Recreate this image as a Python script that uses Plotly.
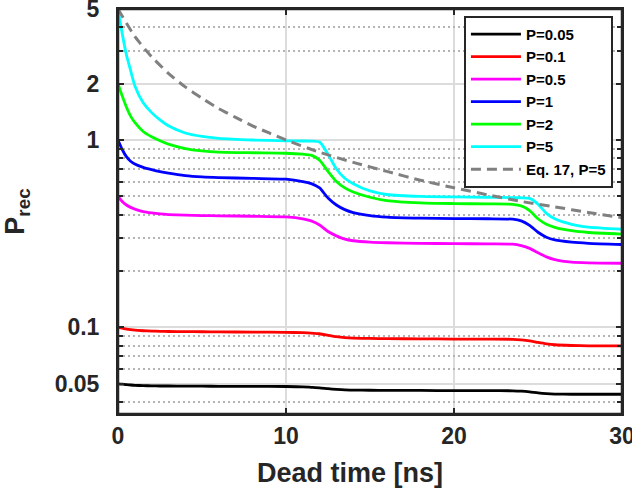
import plotly.graph_objects as go

# Dead time [ns] sample positions shared by the simulated curves
dead_time = [0, 0.25, 0.5, 0.75, 1, 1.5, 2, 2.5, 3, 4, 5, 6, 8, 10, 11, 11.5, 12, 12.5,
             13, 13.5, 14, 15, 16, 18, 20, 22, 23.5, 24, 24.5, 25, 25.5, 26, 27, 28, 30]

p_005 = [0.05, 0.0498, 0.0495, 0.0493, 0.0491, 0.0489, 0.0488, 0.0487, 0.0487, 0.0486, 0.0486,
         0.0485, 0.0485, 0.0484, 0.0482, 0.0479, 0.0476, 0.0471, 0.0467, 0.0464, 0.0463, 0.0462,
         0.0461, 0.0461, 0.046, 0.046, 0.0459, 0.0457, 0.0453, 0.0447, 0.0443, 0.0441, 0.044,
         0.044, 0.044]
p_01 = [0.1, 0.099, 0.098, 0.0972, 0.0966, 0.096, 0.0956, 0.0953, 0.0951, 0.0949, 0.0948,
        0.0946, 0.0944, 0.0941, 0.0937, 0.0933, 0.0925, 0.0908, 0.0892, 0.0882, 0.0877, 0.0873,
        0.0871, 0.0869, 0.0867, 0.0866, 0.0864, 0.0858, 0.0848, 0.0832, 0.0818, 0.0808, 0.0801,
        0.0798, 0.0797]
p_05 = [0.5, 0.47, 0.45, 0.437, 0.428, 0.415, 0.408, 0.403, 0.4, 0.397, 0.395, 0.394, 0.392,
        0.389, 0.38, 0.37, 0.352, 0.325, 0.308, 0.296, 0.29, 0.285, 0.283, 0.281, 0.28, 0.279,
        0.278, 0.273, 0.264, 0.25, 0.238, 0.23, 0.223, 0.221, 0.22]
p_1 = [1.0, 0.89, 0.815, 0.77, 0.745, 0.715, 0.695, 0.678, 0.665, 0.645, 0.635, 0.63, 0.624,
       0.618, 0.6, 0.585, 0.555, 0.49, 0.45, 0.425, 0.41, 0.395, 0.388, 0.383, 0.381, 0.38,
       0.378, 0.37, 0.35, 0.322, 0.303, 0.293, 0.285, 0.281, 0.277]
p_2 = [2.0, 1.72, 1.5, 1.34, 1.24, 1.11, 1.04, 0.99, 0.95, 0.9, 0.875, 0.862, 0.855, 0.85,
       0.84, 0.83, 0.78, 0.68, 0.6, 0.555, 0.528, 0.495, 0.475, 0.462, 0.458, 0.456, 0.454,
       0.445, 0.42, 0.38, 0.355, 0.342, 0.328, 0.321, 0.315]
p_5 = [5.0, 3.7, 2.85, 2.35, 1.95, 1.58, 1.4, 1.28, 1.19, 1.09, 1.045, 1.02, 1.0, 0.99, 0.988,
       0.986, 0.975, 0.84, 0.7, 0.625, 0.585, 0.535, 0.512, 0.5, 0.497, 0.495, 0.493, 0.492,
       0.488, 0.455, 0.406, 0.38, 0.355, 0.343, 0.334]

# Eq. 17 curve, P=5
eq17_time = [0, 1, 2, 3, 4, 5, 6, 7, 8, 9, 10, 12, 14, 16, 18, 20, 22, 24, 26, 28, 30]
eq17_p5 = [5.0, 3.57, 2.78, 2.27, 1.92, 1.67, 1.47, 1.32, 1.19, 1.09, 1.0, 0.86, 0.76, 0.68,
           0.61, 0.556, 0.51, 0.47, 0.44, 0.41, 0.385]

series_names = ["P=0.05", "P=0.1", "P=0.5", "P=1", "P=2", "P=5"]
series_values = [p_005, p_01, p_05, p_1, p_2, p_5]
series_colors = ["#000000", "#ff0000", "#ff00ff", "#0000ff", "#00ff00", "#00ffff"]

y_major_ticks = [0.05, 0.1, 1, 2, 5]
y_major_labels = ["0.05", "0.1", "1", "2", "5"]
y_minor_ticks = [0.04, 0.06, 0.07, 0.08, 0.09, 0.2, 0.3, 0.4, 0.5, 0.6, 0.7, 0.8, 0.9, 3, 4]
x_ticks = [0, 10, 20, 30]

FONT = "Liberation Sans, Arial, Helvetica, sans-serif"
AXC = "#262626"
Y_RANGE = [-1.462, 0.699]

fig = go.Figure()
# carrier for the minor-grid overlay axis (invisible)
fig.add_trace(go.Scatter(x=dead_time, y=p_5, yaxis="y2", mode="lines", opacity=0,
                         showlegend=False, hoverinfo="skip", line=dict(width=0)))
for name, vals, col in zip(series_names, series_values, series_colors):
    fig.add_trace(go.Scatter(x=dead_time, y=vals, mode="lines", name=name,
                             line=dict(color=col, width=2.8, shape="spline", smoothing=0.6)))
fig.add_trace(go.Scatter(x=eq17_time, y=eq17_p5, mode="lines", name="Eq. 17, P=5",
                         line=dict(color="#808080", width=3, dash="10px,6px",
                                   shape="spline", smoothing=0.6)))

# plot frame (box)
fig.add_shape(type="rect", xref="paper", yref="paper", x0=0, x1=1, y0=0, y1=1,
              line=dict(color=AXC, width=2.5), layer="above")

fig.add_annotation(text="Dead time [ns]", xref="paper", yref="paper", x=0.46, y=0,
                   xanchor="center", yanchor="top", yshift=-42, showarrow=False,
                   font=dict(family=FONT, size=27, color=AXC, weight="bold"))

fig.update_layout(
    template="none",
    width=632, height=488,
    margin=dict(l=118, r=10, t=9, b=74, autoexpand=False),
    paper_bgcolor="white", plot_bgcolor="white",
    font=dict(family=FONT, size=23, color=AXC, weight="bold"),
    showlegend=True,
    legend=dict(x=0.982, y=0.983, xanchor="right", yanchor="top",
                bgcolor="white", bordercolor=AXC, borderwidth=2,
                font=dict(family=FONT, size=15, color="#000000", weight="bold"),
                itemwidth=50),
    xaxis=dict(range=[0, 30], tickmode="array", tickvals=x_ticks, automargin=False,
               showline=True, linecolor=AXC, linewidth=2, mirror="ticks",
               ticks="inside", ticklen=6, tickwidth=2, tickcolor=AXC,
               showgrid=True, gridcolor="#dcdcdc", gridwidth=2, zeroline=False,
               ticklabeloverflow="allow",
               tickfont=dict(family=FONT, size=23, color=AXC, weight="bold")),
    yaxis=dict(type="log", range=Y_RANGE, tickmode="array", automargin=False,
               tickvals=y_major_ticks, ticktext=y_major_labels,
               showline=True, linecolor=AXC, linewidth=2, mirror="ticks",
               ticks="inside", ticklen=6, tickwidth=2, tickcolor=AXC,
               showgrid=True, gridcolor="#dcdcdc", gridwidth=2, zeroline=False,
               ticklabelstandoff=12, ticklabeloverflow="allow",
               tickfont=dict(family=FONT, size=23, color=AXC, weight="bold"),
               title=dict(text="P<sub>rec</sub>", standoff=22,
                          font=dict(family=FONT, size=27, color=AXC, weight="bold"))),
    yaxis2=dict(type="log", range=Y_RANGE, overlaying="y", anchor="x", side="left",
                tickmode="array", tickvals=y_minor_ticks, showticklabels=False,
                ticks="inside", ticklen=5, tickwidth=2, tickcolor=AXC, mirror="ticks",
                showline=False, showgrid=True, gridcolor="#b4b4b4", gridwidth=2,
                griddash="2px,3px", zeroline=False, automargin=False),
)

fig.write_html("out.html", post_script="document.body.style.margin='0';",
               config={"displayModeBar": False})
